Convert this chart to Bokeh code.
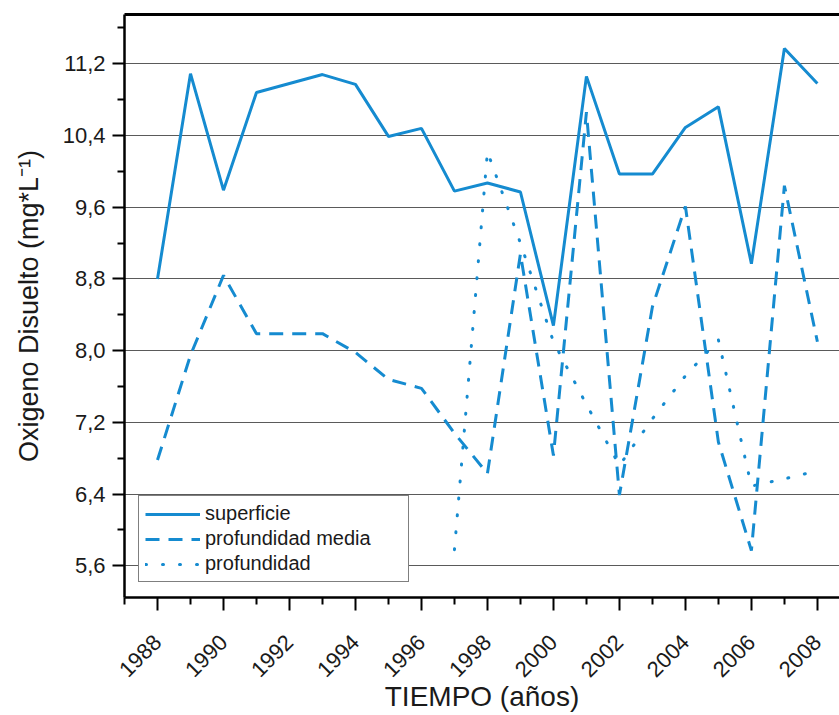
import math
from bokeh.plotting import figure
from bokeh.models import Range1d, FixedTicker, LinearAxis, Legend, LegendItem
from bokeh.embed import file_html
from bokeh.resources import INLINE

# ---- data ----
years = list(range(1988, 2009))
superficie = [8.80, 11.09, 9.79, 10.88, 10.98, 11.08, 10.97, 10.39, 10.48, 9.78,
              9.87, 9.77, 8.28, 11.06, 9.97, 9.97, 10.49, 10.72, 8.97, 11.37, 10.98]
prof_media = [6.78, 7.95, 8.84, 8.19, 8.19, 8.19, 7.98, 7.68, 7.58, 7.08,
              6.63, 9.08, 6.83, 10.66, 6.39, 8.49, 9.61, 6.98, 5.77, 9.84, 8.10]
years_prof = list(range(1997, 2009))
profundidad = [5.78, 10.22, 9.20, 8.10, 7.40, 6.72, 7.24, 7.72, 8.12, 6.49, 6.57, 6.66]

series_names = ["superficie", "profundidad media", "profundidad"]

y_ticks = [5.6, 6.4, 7.2, 8.0, 8.8, 9.6, 10.4, 11.2]
y_tick_labels = ["5,6", "6,4", "7,2", "8,0", "8,8", "9,6", "10,4", "11,2"]
y_minor = [6.0, 6.8, 7.6, 8.4, 9.2, 10.0, 10.8, 11.6]
x_ticks = list(range(1988, 2009, 2))
x_tick_labels = [str(y) for y in x_ticks]
x_minor = list(range(1987, 2009, 2))

FONT = "Liberation Sans"
BLUE = "#158bd0"

p = figure(width=839, height=715, output_backend="svg", toolbar_location=None,
           x_range=Range1d(1987, 2008.67), y_range=Range1d(5.247, 11.75),
           min_border_left=124, min_border_right=0, min_border_top=14,
           min_border_bottom=118, outline_line_color=None,
           background_fill_color="white", border_fill_color="white")

r1 = p.line(years, superficie, line_color=BLUE, line_width=3)
r2 = p.line(years, prof_media, line_color=BLUE, line_width=3, line_dash="14 9")
r3 = p.line(years_prof, profundidad, line_color=BLUE, line_width=3,
            line_dash="1 16", line_cap="round")

# axes
xa = p.xaxis[0]
xa.ticker = FixedTicker(ticks=x_ticks, minor_ticks=x_minor)
xa.major_label_overrides = {t: l for t, l in zip(x_ticks, x_tick_labels)}
xa.major_label_orientation = math.pi / 4
xa.axis_label = "TIEMPO (años)"
ya = p.yaxis[0]
ya.ticker = FixedTicker(ticks=y_ticks, minor_ticks=y_minor)
ya.major_label_overrides = {t: l for t, l in zip(y_ticks, y_tick_labels)}
ya.axis_label = "Oxigeno Disuelto (mg*L\u207b\u00b9)"

for ax in (xa, ya):
    ax.axis_line_color = "black"
    ax.axis_line_width = 2.5
    ax.major_tick_line_color = "black"
    ax.minor_tick_line_color = "black"
    ax.major_tick_line_width = 2
    ax.minor_tick_line_width = 2
    ax.major_tick_in = 0
    ax.minor_tick_in = 0
    ax.major_label_text_font = FONT
    ax.major_label_text_font_size = "22px"
    ax.major_label_text_color = "#1a1a1a"
    ax.axis_label_text_font = FONT
    ax.axis_label_text_font_style = "normal"
    ax.axis_label_text_color = "#1a1a1a"

xa.major_tick_out = 13
xa.minor_tick_out = 7
xa.major_label_standoff = 28
xa.axis_label_text_font_size = "28px"
xa.axis_label_standoff = -6
ya.major_tick_out = 12
ya.minor_tick_out = 7
ya.major_label_standoff = 7
ya.axis_label_text_font_size = "27px"
ya.axis_label_standoff = 16

top = LinearAxis(ticker=FixedTicker(ticks=[]), axis_line_width=3,
                 axis_line_color="black", major_label_text_font_size="0px",
                 major_tick_line_color=None, minor_tick_line_color=None)
p.add_layout(top, "above")

p.xgrid.grid_line_color = None
p.ygrid.ticker = FixedTicker(ticks=y_ticks)
p.ygrid.grid_line_color = "#5a5a5a"
p.ygrid.grid_line_width = 1

legend = Legend(items=[LegendItem(label=series_names[0], renderers=[r1]),
                       LegendItem(label=series_names[1], renderers=[r2]),
                       LegendItem(label=series_names[2], renderers=[r3])],
                location=(14, 15), glyph_width=55, glyph_height=20,
                label_height=20, label_width=197, spacing=2, padding=6,
                label_standoff=5, label_text_font=FONT,
                label_text_font_size="20px", label_text_color="#1a1a1a",
                border_line_color="black", border_line_width=1.5,
                background_fill_color="white", background_fill_alpha=1.0)
p.add_layout(legend)

open("out.html", "w").write(file_html(p, INLINE))
